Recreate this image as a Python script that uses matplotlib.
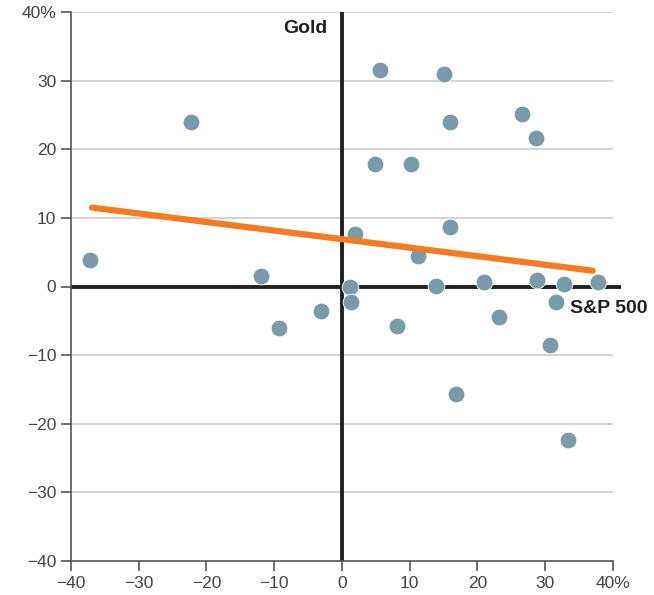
import matplotlib
matplotlib.use("Agg")
import matplotlib.pyplot as plt

sp500 = [-37.2, -22.3, -12.0, -9.3, -3.1, 1.2, 1.3, 1.9, 4.9, 5.6, 8.1, 10.2, 11.2, 13.9,
         15.1, 15.9, 15.9, 16.8, 21.0, 23.2, 26.6, 28.6, 28.8, 30.7, 31.6, 32.8, 33.4, 37.8]
gold = [3.9, 23.9, 1.5, -6.0, -3.6, 0.0, -2.2, 7.7, 17.9, 31.5, -5.8, 17.8, 4.5, 0.1,
        30.9, 23.9, 8.7, -15.7, 0.6, -4.5, 25.1, 21.7, 0.9, -8.5, -2.2, 0.3, -22.3, 0.7]
trend_x = [-36.9, 37.0]
trend_y = [11.5, 2.3]
ticks = [-40, -30, -20, -10, 0, 10, 20, 30, 40]
xtick_labels = ["\u221240", "\u221230", "\u221220", "\u221210", "0", "10", "20", "30", "40%"]
ytick_labels = ["\u221240", "\u221230", "\u221220", "\u221210", "0", "10", "20", "30", "40%"]

plt.rcParams['font.family'] = ['Liberation Sans', 'DejaVu Sans']

fig = plt.figure(figsize=(6.54, 5.95), dpi=100)
ax = fig.add_axes([71/654, 34/595, 542/654, 549/595])
ax.set_xlim(-40, 40)
ax.set_ylim(-40, 40)

for t in ticks:
    if t not in (0, -40):
        ax.axhline(t, color="#cccccc", lw=1.2, zorder=1)

ax.plot([-40, 41.2], [0, 0], color="#231f20", lw=2.8, zorder=2, clip_on=False, solid_capstyle="butt")
ax.axvline(0, color="#231f20", lw=2.8, zorder=2)

ax.scatter(sp500, gold, s=145, color="#7a9aa8", edgecolors="white", linewidths=0.6, zorder=3)
ax.plot(trend_x, trend_y, color="#f47b20", lw=4.5, solid_capstyle="round", zorder=4)

for s in ("top", "right"):
    ax.spines[s].set_visible(False)
for s in ("left", "bottom"):
    ax.spines[s].set_color("#555555")
    ax.spines[s].set_linewidth(1.2)

ax.set_xticks(ticks)
ax.set_xticklabels(xtick_labels)
ax.set_yticks(ticks)
ax.set_yticklabels(ytick_labels)
ax.tick_params(axis="both", colors="#555555", labelcolor="#444444", labelsize=12.5, length=7, width=1.2, direction="out")

ax.text(-2.1, 37.6, "Gold", ha="right", va="center", fontsize=14, fontweight="bold", color="#231f20")
ax.text(33.6, -3.2, "S&P 500", ha="left", va="center", fontsize=14, fontweight="bold", color="#231f20", clip_on=False)

fig.savefig("out.png", dpi=100)
